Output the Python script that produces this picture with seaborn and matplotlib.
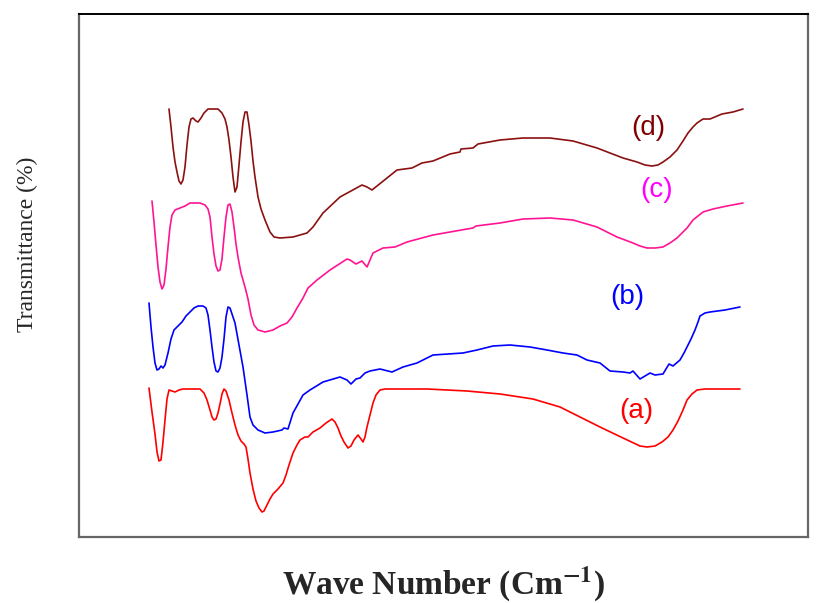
import numpy as np
import pandas as pd
import matplotlib
matplotlib.use("Agg")
import matplotlib.pyplot as plt
import seaborn as sns

# ---- data (x: wave-number axis position, arbitrary units; y: transmittance, arbitrary offset units) ----
a_x = [149, 152, 155, 157, 159, 161, 163, 165, 167, 169, 172, 175, 179, 183, 200, 204, 207, 210, 212, 214,
       216, 218, 220, 222, 224, 226, 229, 232, 235, 238, 241, 244, 246, 248, 250, 253, 256, 259, 262, 264,
       267, 270, 273, 278, 283, 286, 289, 293, 297, 300, 305, 308, 313, 320, 326, 332, 335, 338, 341, 344,
       348, 351, 354, 358, 361, 363, 365, 367, 370, 373, 376, 380, 385, 408, 427, 467, 500, 533, 560, 580,
       600, 623, 640, 647, 655, 662, 668, 673, 678, 683, 687, 692, 697, 705, 740]
a_y = [149, 125, 103, 85, 76, 77, 95, 117, 138, 147, 146, 145, 147, 148, 148, 144, 137, 127, 120, 117,
       118, 124, 133, 143, 148, 146, 137, 124, 112, 102, 96, 93, 90, 78, 64, 48, 36, 29, 25, 26,
       32, 38, 43, 48, 54, 62, 72, 84, 92, 97, 100, 100, 105, 109, 114, 118, 115, 109, 101, 95,
       89, 91, 97, 102, 98, 95, 100, 110, 122, 134, 142, 147, 148, 148, 148, 146, 143, 138, 130, 120,
       110, 99, 91, 90, 91, 95, 100, 107, 116, 127, 137, 143, 147, 148, 148]

b_x = [149, 151, 153, 155, 157, 159, 161, 163, 165, 168, 171, 174, 178, 182, 186, 190, 194, 198, 203, 206,
       208, 210, 212, 214, 216, 218, 220, 222, 224, 226, 228, 230, 232, 235, 239, 243, 247, 250, 253, 258,
       265, 273, 282, 284, 288, 293, 303, 310, 323, 340, 347, 351, 356, 360, 365, 370, 380, 392, 403, 417,
       433, 463, 477, 493, 510, 530, 547, 563, 577, 587, 600, 610, 623, 630, 633, 640, 645, 650, 655, 663,
       669, 673, 680, 684, 687, 691, 695, 698, 700, 705, 710, 725, 740]
b_y = [234, 210, 190, 174, 167, 168, 171, 169, 172, 184, 198, 207, 211, 215, 221, 225, 229, 231, 231, 229,
       222, 207, 190, 175, 166, 165, 169, 180, 198, 220, 230, 229, 223, 214, 192, 170, 142, 120, 112, 107,
       104, 105, 107, 109, 108, 124, 142, 147, 155, 160, 157, 153, 158, 159, 164, 166, 168, 165, 170, 174,
       182, 184, 187, 191, 192, 190, 187, 184, 182, 177, 174, 166, 165, 164, 166, 158, 161, 164, 162, 163,
       173, 171, 177, 184, 190, 198, 207, 215, 221, 224, 225, 227, 230]

c_x = [152, 154, 156, 158, 160, 162, 164, 166, 168, 170, 172, 175, 180, 185, 190, 200, 205, 208, 210, 212,
       214, 216, 218, 220, 222, 224, 226, 228, 230, 232, 234, 236, 238, 241, 245, 248, 251, 254, 258, 265,
       273, 280, 287, 292, 297, 303, 308, 317, 330, 347, 350, 356, 362, 367, 373, 383, 395, 407, 433, 450,
       473, 476, 500, 523, 550, 573, 597, 617, 633, 640, 647, 655, 663, 670, 677, 683, 687, 693, 698, 703,
       713, 727, 743]
c_y = [336, 315, 292, 270, 255, 248, 252, 268, 290, 310, 322, 327, 329, 331, 334, 334, 332, 328, 320, 300,
       283, 271, 266, 267, 278, 300, 320, 332, 333, 325, 310, 293, 280, 264, 250, 238, 222, 212, 207, 205,
       207, 211, 214, 220, 229, 239, 249, 257, 267, 278, 277, 273, 276, 270, 284, 289, 290, 295, 302, 305,
       309, 311, 314, 318, 319, 317, 310, 300, 294, 291, 289, 289, 290, 294, 299, 305, 309, 317, 321, 325,
       328, 331, 334]

d_x = [169, 171, 173, 175, 177, 179, 181, 183, 185, 187, 189, 191, 193, 196, 198, 201, 204, 208, 218, 222,
       225, 227, 229, 231, 233, 235, 237, 239, 241, 243, 245, 247, 249, 251, 253, 255, 258, 261, 265, 270,
       274, 280, 293, 307, 313, 323, 340, 362, 367, 372, 387, 397, 412, 422, 433, 450, 460, 461, 473, 478,
       500, 523, 550, 573, 597, 623, 637, 645, 652, 658, 663, 670, 677, 683, 688, 693, 697, 703, 710, 722,
       733, 743]
d_y = [428, 410, 390, 375, 365, 356, 353, 357, 370, 392, 410, 418, 419, 416, 415, 419, 424, 428, 428, 424,
       418, 410, 397, 380, 360, 345, 350, 372, 395, 415, 425, 425, 412, 396, 376, 360, 340, 328, 317, 305,
       300, 299, 300, 304, 310, 324, 340, 352, 350, 347, 359, 367, 369, 374, 376, 383, 385, 388, 389, 393,
       397, 399, 399, 396, 389, 379, 375, 372, 371, 372, 375, 380, 387, 396, 404, 410, 414, 418, 418, 423,
       425, 428]

labels = ["(a)", "(b)", "(c)", "(d)"]
label_x = [636, 627, 657, 648]
label_y = [126, 240, 347, 409]
line_colors = ["#FF0000", "#0000FF", "#FF1493", "#8B1010"]
text_colors = ["#FF0000", "#0000FF", "#FF00FF", "#800000"]

# ---- figure ----
sns.set_style("white")
plt.rcParams["font.family"] = ["Liberation Serif", "DejaVu Serif"]
plt.rcParams["mathtext.fontset"] = "stix"

fig = plt.figure(figsize=(8.18, 6.03), dpi=100)
ax = fig.add_axes([79 / 818, 1 - 537 / 603, (808 - 79) / 818, (537 - 14) / 603])

for xs, ys, col in zip([a_x, b_x, c_x, d_x], [a_y, b_y, c_y, d_y], line_colors):
    df = pd.DataFrame({"x": xs, "y": ys})
    sns.lineplot(data=df, x="x", y="y", ax=ax, sort=False, estimator=None,
                 color=col, linewidth=1.2)

for lab, lx, ly, tc in zip(labels, label_x, label_y, text_colors):
    ax.text(lx, ly, lab, color=tc, fontsize=20, ha="center", va="center",
            family=["Liberation Sans", "DejaVu Sans"])

ax.set_xlim(79, 808)
ax.set_ylim(0, 523)
ax.set_xticks([])
ax.set_yticks([])
ax.set_xlabel("")
ax.set_ylabel("")
for s in ["left", "bottom", "right"]:
    ax.spines[s].set_color("#666666")
    ax.spines[s].set_linewidth(1.6)
ax.spines["top"].set_color("#000000")
ax.spines["top"].set_linewidth(1.4)

fig.text(443 / 818, 1 - 594 / 603, r"Wave Number (Cm$^{\mathbf{-1}}$)", ha="center", va="baseline",
         fontsize=24, fontweight="bold")
fig.text(27 / 818, 1 - 244 / 603, "Transmittance (%)", ha="center", va="center",
         rotation=90, fontsize=17)

fig.savefig("out.png", dpi=100)
